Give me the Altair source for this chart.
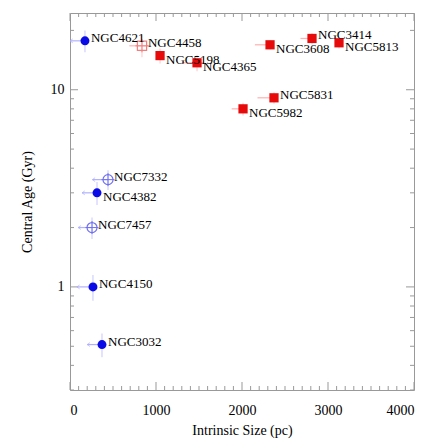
import altair as alt
import pandas as pd

# ---- data ----
names = ["NGC4621", "NGC4458", "NGC5198", "NGC4365", "NGC3608", "NGC3414", "NGC5813",
         "NGC5831", "NGC5982", "NGC7332", "NGC4382", "NGC7457", "NGC4150", "NGC3032"]
size_pc = [174, 837, 1047, 1477, 2326, 2814, 3128, 2372, 2012, 442, 314, 256, 267, 372]
size_lo = [0, 690, 1000, 1300, 2150, 2680, 3080, 2180, 1880, 260, 140, 95, 80, 200]
size_hi = [174, 940, 1047, 1560, 2326, 2814, 3128, 2372, 2012, 442, 314, 256, 267, 372]
age_gyr = [17.7, 16.7, 14.9, 13.7, 16.9, 18.2, 17.3, 9.1, 8.0, 3.5, 3.0, 2.0, 1.0, 0.51]
age_lo = [15.5, 14.6, 13.6, 12.4, 16.0, 17.0, 16.2, 8.5, 7.4, 3.1, 2.6, 1.75, 0.85, 0.44]
age_hi = [20.0, 19.0, 16.2, 15.0, 17.8, 19.4, 18.4, 9.7, 8.6, 3.9, 3.4, 2.25, 1.15, 0.58]
kind = ["blue_filled", "red_open", "red_filled", "red_filled", "red_filled", "red_filled",
        "red_filled", "red_filled", "red_filled", "blue_open", "blue_filled", "blue_open",
        "blue_filled", "blue_filled"]
x_ticks = [0, 1000, 2000, 3000, 4000]
y_labels = [1, 10]
y_minor = [0.3, 0.4, 0.5, 0.6, 0.7, 0.8, 0.9, 2, 3, 4, 5, 6, 7, 8, 9, 20]
x_minor = [v for v in range(0, 4001, 100) if v % 1000]

# ---- styles ----
BELOW = {"NGC5198", "NGC4365", "NGC3608", "NGC5813", "NGC5982", "NGC4382"}
BLUE, RED = "#0a0ae6", "#e60a0a"
LBLUE, LRED = "#b0b0ff", "#ffb0b0"
FONT = "Liberation Serif"
TICK = "#999999"
W, H = 344, 377

df = pd.DataFrame({
    "name": names, "size": size_pc, "size_lo": size_lo, "size_hi": size_hi,
    "age": age_gyr, "age_lo": age_lo, "age_hi": age_hi, "kind": kind,
})
df["color"] = df["kind"].str.startswith("blue").map({True: "blue", False: "red"})
df["below"] = df["name"].isin(BELOW)

xs = alt.Scale(domain=[0, 4000], nice=False, zero=False)
ys = alt.Scale(type="log", domain=[0.3, 24.5], nice=False)

x_axis = alt.Axis(values=x_ticks, title="Intrinsic Size (pc)", format="d",
                  grid=False, domain=False, ticks=False, tickSize=0,
                  labelPadding=13, titlePadding=6, labelFont=FONT, titleFont=FONT,
                  labelFontSize=14, titleFontSize=14, titleFontWeight="normal",
                  labelColor="black", titleColor="black")
y_axis = alt.Axis(values=y_labels, title="Central Age (Gyr)", format="d",
                  grid=False, domain=False, ticks=False, tickSize=0,
                  labelPadding=6, titlePadding=16, labelFont=FONT, titleFont=FONT,
                  labelFontSize=14, titleFontSize=14, titleFontWeight="normal",
                  labelColor="black", titleColor="black")

base = alt.Chart(df)
color_scale = alt.Scale(domain=["blue", "red"], range=[LBLUE, LRED])

hbar = base.mark_rule(strokeWidth=1.2).encode(
    x=alt.X("size_lo:Q", scale=xs, axis=x_axis), x2="size_hi:Q",
    y=alt.Y("age:Q", scale=ys, axis=y_axis),
    color=alt.Color("color:N", scale=color_scale, legend=None))
vbar = base.mark_rule(strokeWidth=1.2, opacity=0.6).encode(
    x=alt.X("size:Q", scale=xs), y=alt.Y("age_lo:Q", scale=ys), y2="age_hi:Q",
    color=alt.Color("color:N", scale=color_scale, legend=None))

arrow = base.transform_filter("datum.color == 'blue'").mark_point(
    shape="M0,0L1,-0.7M0,0L1,0.7", size=30, strokeWidth=1, color=LBLUE, filled=False
).encode(x=alt.X("size_lo:Q", scale=xs), y=alt.Y("age:Q", scale=ys))

def pt(k, **kw):
    return base.transform_filter(f"datum.kind == '{k}'").mark_point(opacity=1, **kw).encode(
        x=alt.X("size:Q", scale=xs), y=alt.Y("age:Q", scale=ys))

CROSS = "M-1,0L1,0M0,-1L0,1"
filled_c = pt("blue_filled", shape="circle", filled=True, size=80, color=BLUE)
open_c = pt("blue_open", shape="circle", filled=False, size=100, color="#7070f0", strokeWidth=1.2)
open_c_x = pt("blue_open", shape=CROSS, filled=False, size=170, color="#7070f0", strokeWidth=1)
filled_s = pt("red_filled", shape="square", filled=True, size=85, color=RED)
open_s = pt("red_open", shape="square", filled=False, size=85, color="#f08080", strokeWidth=1.2)
open_s_x = pt("red_open", shape=CROSS, filled=False, size=170, color="#f08080", strokeWidth=1)

def labels(cond, dy):
    return base.transform_filter(cond).mark_text(
        align="left", baseline="middle", dx=6, dy=dy, font=FONT, fontSize=13, color="black"
    ).encode(x=alt.X("size:Q", scale=xs), y=alt.Y("age:Q", scale=ys), text="name:N")

lab_up = labels("!datum.below", -3)
lab_dn = labels("datum.below", 4)

# inward frame ticks, placed through the scales
def xticks(vals, length):
    d = pd.DataFrame({"size": vals})
    layers = []
    for edge in (length / 2, H - length / 2):
        layers.append(alt.Chart(d).mark_tick(orient="vertical", size=length, thickness=1,
                                             color=TICK, opacity=1).encode(
            x=alt.X("size:Q", scale=xs), y=alt.value(edge)))
    return layers

def yticks(vals, length):
    d = pd.DataFrame({"age": vals})
    layers = []
    for edge in (length / 2, W - length / 2):
        layers.append(alt.Chart(d).mark_tick(orient="horizontal", size=length, thickness=1,
                                             color=TICK, opacity=1).encode(
            y=alt.Y("age:Q", scale=ys), x=alt.value(edge)))
    return layers

tick_layers = (xticks(x_ticks, 8) + xticks(x_minor, 4) +
               yticks(y_labels, 8) + yticks(y_minor, 4))

chart = alt.layer(*tick_layers, hbar, vbar, arrow, open_s, open_s_x, open_c, open_c_x,
                  filled_s, filled_c, lab_up, lab_dn).properties(
    width=W, height=H,
    autosize=alt.AutoSizeParams(type="none"),
    padding={"left": 62, "top": 5, "right": 14, "bottom": 60},
).configure_view(stroke="#999", strokeWidth=1)

chart.save("out.html", embed_options={"renderer": "svg", "actions": False})
